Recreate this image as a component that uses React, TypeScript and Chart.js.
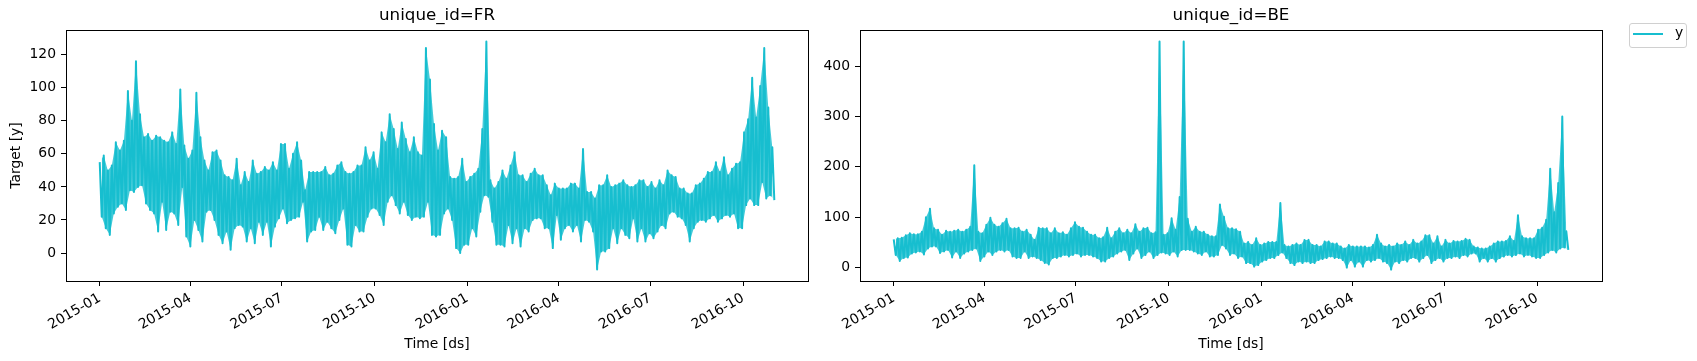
import React, { useEffect, useRef } from "react";
import { Chart, registerables } from "chart.js";

Chart.register(...registerables);

// ---------------- data ----------------
// Hourly series summarised as 4-day blocks starting 2015-01-01:
// for each block the high and low of the values.
const BLOCK_DAYS = 4;
const LAST_DAY = 669.96; // 2016-10-31 23:00, days after 2015-01-01
const SERIES_START = "2015-01";

const xTickLabels = ["2015-01", "2015-04", "2015-07", "2015-10", "2016-01", "2016-04", "2016-07", "2016-10"];
const frYTicks = [0, 20, 40, 60, 80, 100, 120];
const beYTicks = [0, 100, 200, 300, 400];

const frHigh = [
  55, 59, 50, 53, 67, 62, 68, 98, 80, 116, 84, 70, 72, 68, 71, 70, 68, 67, 73, 66, 99, 65, 57, 62, 97, 70, 56, 50, 61, 62, 56, 47, 46, 44, 57, 41, 49, 43, 56, 48, 49, 52,
  50, 55, 50, 66, 66, 51, 60, 67, 56, 38, 49, 49, 49, 49, 52, 47, 48, 53, 55, 49, 48, 49, 53, 53, 64, 56, 61, 51, 73, 67, 84, 75, 63, 79, 69, 61, 70, 61, 59, 124, 105, 78,
  62, 74, 70, 46, 45, 46, 57, 43, 46, 48, 51, 75, 128, 44, 39, 43, 50, 45, 53, 61, 47, 47, 43, 48, 51, 47, 47, 41, 35, 42, 39, 39, 39, 42, 42, 39, 63, 37, 37, 33, 41, 41,
  47, 40, 41, 42, 44, 41, 40, 41, 44, 44, 40, 43, 39, 44, 41, 50, 47, 46, 39, 39, 36, 36, 41, 42, 45, 49, 49, 55, 49, 58, 47, 51, 54, 55, 73, 81, 106, 82, 101, 124, 88, 64,
];
const frLow = [
  22, 15, 11, 24, 28, 30, 26, 38, 37, 40, 41, 30, 26, 24, 13, 31, 14, 25, 24, 17, 40, 10, 4, 20, 14, 7, 25, 26, 20, 11, 6, 13, 2, 15, 17, 16, 7, 15, 6, 19, 11, 19,
  4, 16, 21, 27, 18, 20, 21, 22, 31, 7, 13, 14, 22, 14, 19, 15, 12, 20, 27, 5, 4, 17, 13, 13, 22, 27, 27, 23, 17, 31, 35, 29, 24, 31, 23, 20, 22, 21, 22, 31, 11, 10,
  11, 24, 27, 20, 3, 0, 5, 5, 15, 10, 25, 35, 34, 19, 5, 5, 4, 17, 6, 15, 4, 15, 13, 20, 21, 21, 15, 15, 3, 23, 8, 15, 17, 13, 17, 7, 20, 19, 13, -10, 1, 1,
  3, 15, 6, 15, 11, 9, 21, 7, 15, 7, 12, 9, 13, 17, 15, 24, 25, 22, 21, 17, 7, 15, 19, 20, 19, 21, 23, 19, 21, 23, 22, 24, 15, 15, 29, 33, 29, 29, 43, 33, 35, 32,
];
const beHigh = [
  56, 58, 59, 64, 68, 66, 66, 71, 100, 117, 78, 75, 65, 73, 71, 73, 75, 71, 75, 81, 203, 71, 68, 85, 99, 85, 81, 88, 97, 78, 78, 79, 71, 75, 65, 55, 79, 78, 78, 68, 78, 68,
  70, 65, 78, 90, 81, 79, 71, 65, 65, 58, 60, 79, 58, 71, 78, 68, 75, 68, 86, 71, 78, 79, 68, 70, 449, 65, 68, 98, 75, 140, 449, 97, 71, 81, 71, 71, 65, 62, 62, 125, 101, 78,
  78, 76, 71, 48, 51, 45, 58, 45, 48, 51, 51, 51, 128, 45, 42, 45, 48, 45, 55, 55, 45, 45, 42, 52, 52, 48, 48, 42, 38, 45, 42, 42, 42, 42, 40, 45, 65, 48, 42, 45, 42, 48,
  45, 52, 45, 55, 48, 52, 64, 64, 48, 62, 42, 55, 48, 53, 52, 53, 57, 55, 42, 40, 38, 38, 42, 48, 52, 52, 53, 62, 53, 104, 62, 58, 58, 58, 75, 79, 95, 196, 110, 168, 300, 72,
];
const beLow = [
  25, 13, 19, 20, 28, 30, 32, 26, 38, 42, 42, 29, 32, 35, 20, 32, 19, 28, 32, 35, 38, 13, 22, 32, 25, 32, 35, 32, 35, 22, 19, 19, 32, 19, 22, 19, 15, 9, 6, 19, 19, 22,
  25, 22, 25, 28, 22, 25, 25, 22, 19, 12, 12, 19, 22, 28, 32, 35, 15, 28, 38, 19, 25, 32, 19, 25, 30, 28, 25, 32, 22, 35, 35, 35, 32, 28, 25, 32, 22, 22, 25, 45, 38, 25,
  28, 19, 22, 9, 9, 2, 5, 12, 15, 19, 19, 25, 30, 19, 9, 5, 12, 9, 12, 9, 9, 15, 17, 19, 22, 19, 19, 15, 0, 15, 2, 12, 2, 15, 12, 15, 19, 12, 9, -4, 12, 9,
  15, 12, 19, 19, 12, 19, 25, 9, 15, 19, 12, 19, 19, 22, 19, 25, 22, 28, 28, 12, 19, 12, 19, 12, 19, 22, 25, 22, 25, 28, 22, 25, 22, 19, 19, 25, 30, 35, 30, 38, 40, 35,
];

// ---------------- styling ----------------
const FONT = "'DejaVu Sans', sans-serif";
const CYAN = "#17becf";
const CYAN_FILL = "rgba(23,190,207,0.8)";
const TICK_SIZE = 13.9;
const TITLE_SIZE = 16.7;
const CANVAS_H = 361;

function monthDay(label: string): number {
  const [y, m] = label.split("-").map(Number);
  const [y0, m0] = SERIES_START.split("-").map(Number);
  return (Date.UTC(y, m - 1, 1) - Date.UTC(y0, m0 - 1, 1)) / 86400000;
}

function zigzag(high: number[], low: number[]) {
  const pts: { x: number; y: number }[] = [];
  for (let k = 0; k < high.length; k++) {
    pts.push({ x: k * BLOCK_DAYS, y: high[k] });
    pts.push({ x: k * BLOCK_DAYS + BLOCK_DAYS / 2, y: low[k] });
  }
  return pts;
}

function envelope(values: number[], offset: number) {
  return values.map((v, k) => ({ x: k * BLOCK_DAYS + offset, y: v }));
}

const framePlugin = {
  id: "frame",
  afterDatasetsDraw(chart: any) {
    const { ctx, chartArea: a } = chart;
    ctx.save();
    ctx.strokeStyle = "#000";
    ctx.lineWidth = 1;
    ctx.strokeRect(Math.round(a.left) + 0.5, Math.round(a.top) + 0.5, Math.round(a.right - a.left), Math.round(a.bottom - a.top));
    ctx.restore();
  },
};

type PanelProps = {
  left: number;
  width: number;
  plotLeft: number;
  plotRight: number;
  plotBottom: number;
  title: string;
  high: number[];
  low: number[];
  yTicks: number[];
  yLabel?: string;
};

function Panel(p: PanelProps) {
  const ref = useRef<HTMLCanvasElement>(null);
  useEffect(() => {
    const all = p.high.concat(p.low);
    const dMin = Math.min(...all);
    const dMax = Math.max(...all);
    const yMargin = (dMax - dMin) * 0.05;
    const xMargin = LAST_DAY * 0.05;
    const xTickDays = xTickLabels.map(monthDay);
    const tickFont = { family: FONT, size: TICK_SIZE };
    const grid = {
      display: true,
      drawOnChartArea: false,
      drawTicks: true,
      tickLength: 5,
      color: "#000",
      lineWidth: 1,
    };
    const chart = new Chart(ref.current as HTMLCanvasElement, {
      type: "line",
      data: {
        datasets: [
          {
            label: "y",
            data: zigzag(p.high, p.low),
            borderColor: CYAN,
            backgroundColor: CYAN,
            borderWidth: 2,
            borderJoinStyle: "round",
            pointRadius: 0,
            tension: 0,
            fill: false,
          },
          {
            label: "y high",
            data: envelope(p.high, 0),
            borderWidth: 0,
            borderColor: "rgba(0,0,0,0)",
            pointRadius: 0,
            tension: 0,
            fill: false,
          },
          {
            label: "y low",
            data: envelope(p.low, BLOCK_DAYS / 2),
            borderWidth: 0,
            borderColor: "rgba(0,0,0,0)",
            backgroundColor: CYAN_FILL,
            pointRadius: 0,
            tension: 0,
            fill: { target: 1 },
          },
        ],
      },
      options: {
        animation: false,
        responsive: false,
        events: [],
        layout: { padding: { left: 0, top: 0, right: p.width - p.plotRight, bottom: 0 } },
        plugins: {
          legend: { display: false },
          tooltip: { enabled: false },
          filler: { propagate: false },
          title: {
            display: true,
            text: p.title,
            fullSize: false,
            color: "#000",
            font: { family: FONT, size: TITLE_SIZE, weight: "normal" },
            padding: { top: 6, bottom: 4 },
          },
        },
        scales: {
          x: {
            type: "linear",
            min: -xMargin,
            max: LAST_DAY + xMargin,
            afterFit: (s: any) => {
              s.height = CANVAS_H - p.plotBottom;
            },
            afterBuildTicks: (s: any) => {
              s.ticks = xTickDays.map((v) => ({ value: v }));
            },
            ticks: {
              autoSkip: false,
              minRotation: 30,
              maxRotation: 30,
              padding: 4,
              color: "#000",
              font: tickFont,
              callback: (_v: any, i: number) => xTickLabels[i],
            },
            grid,
            border: { display: false },
            title: {
              display: true,
              text: "Time [ds]",
              color: "#000",
              font: tickFont,
              padding: { top: 0, bottom: 8.7 },
            },
          },
          y: {
            type: "linear",
            min: dMin - yMargin,
            max: dMax + yMargin,
            afterFit: (s: any) => {
              s.width = p.plotLeft;
            },
            afterBuildTicks: (s: any) => {
              s.ticks = p.yTicks.map((v) => ({ value: v }));
            },
            ticks: {
              padding: 5,
              color: "#000",
              font: tickFont,
              callback: (v: any) => String(v),
            },
            grid,
            border: { display: false },
            title: {
              display: !!p.yLabel,
              text: p.yLabel || "",
              color: "#000",
              font: tickFont,
              padding: { top: 7.7, bottom: 0 },
            },
          },
        },
      },
      plugins: [framePlugin],
    } as any);
    return () => chart.destroy();
  }, []);
  return (
    <canvas
      ref={ref}
      width={p.width}
      height={CANVAS_H}
      style={{ position: "absolute", left: p.left, top: 0, width: p.width, height: CANVAS_H }}
    />
  );
}

function Legend() {
  return (
    <div
      style={{
        position: "absolute",
        left: 1629,
        top: 23,
        width: 58,
        height: 25,
        boxSizing: "border-box",
        border: "1px solid #d0d0d0",
        borderRadius: 3,
        background: "rgba(255,255,255,0.8)",
      }}
    >
      <div style={{ position: "absolute", left: 3, top: 9, width: 30, height: 2, background: CYAN }} />
      <span
        style={{
          position: "absolute",
          left: 45,
          top: 2,
          fontFamily: FONT,
          fontSize: TICK_SIZE,
          lineHeight: `${TICK_SIZE}px`,
          color: "#000",
        }}
      >
        y
      </span>
    </div>
  );
}

export default function App() {
  return (
    <div style={{ position: "absolute", left: 0, top: 0, width: 1697, height: CANVAS_H, background: "#fff", overflow: "hidden" }}>
      <Panel left={0} width={815} plotLeft={66} plotRight={808} plotBottom={281} title="unique_id=FR" high={frHigh} low={frLow} yTicks={frYTicks} yLabel="Target [y]" />
      <Panel left={815} width={882} plotLeft={45} plotRight={787} plotBottom={281} title="unique_id=BE" high={beHigh} low={beLow} yTicks={beYTicks} />
      <Legend />
    </div>
  );
}
